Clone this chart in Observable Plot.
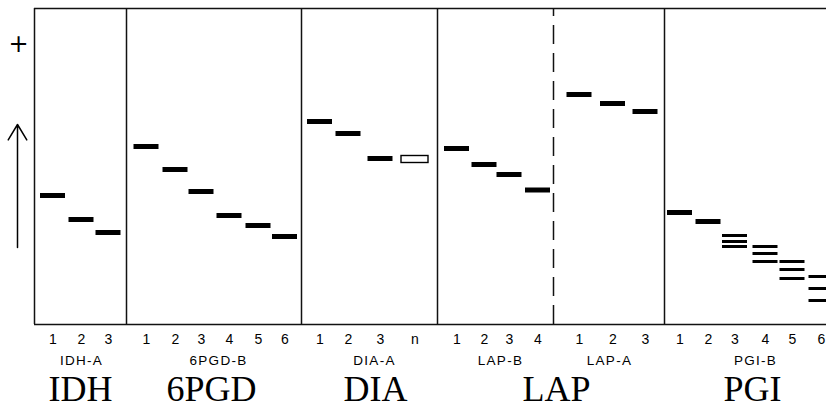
<!DOCTYPE html>
<html>
<head>
<meta charset="utf-8">
<script src="https://cdn.jsdelivr.net/npm/d3@7"></script>
<script src="https://cdn.jsdelivr.net/npm/@observablehq/plot@0.6"></script>
<style>
  html, body { margin: 0; padding: 0; background: #fff; }
  #chart svg { display: block; background: #fff; }
</style>
</head>
<body>
<div id="chart"></div>
<script>
// ---- Data (gel position units from the left edge of the gel; mobility units from origin) ----
const enzymes = ["IDH", "6PGD", "DIA", "LAP", "PGI"];
const enzymeCenters = [46, 177, 341, 522, 718];

const loci = ["IDH-A", "6PGD-B", "DIA-A", "LAP-B", "LAP-A", "PGI-B"];
const lociCenters = [47, 184, 340, 466, 575, 721];

const dividers = [92, 267, 403, 630];
const dashedDividers = [519];

const idhLanes = [18.5, 47, 74];
const idhLabels = ["1", "2", "3"];
const idhBands = [129, 105, 92];

const pgdLanes = [112, 141, 167, 195, 224, 250.5];
const pgdLabels = ["1", "2", "3", "4", "5", "6"];
const pgdBands = [178, 155, 133, 109, 99, 88];

const diaLanes = [285.5, 314, 346, 380.5];
const diaLabels = ["1", "2", "3", "n"];
const diaBands = [203, 191, 166, 165];
const diaHollow = [false, false, false, true];

const lapBLanes = [422.5, 450, 475, 503.5];
const lapBLabels = ["1", "2", "3", "4"];
const lapBBands = [176, 160, 150, 134.5];

const lapALanes = [545, 578.5, 611];
const lapALabels = ["1", "2", "3"];
const lapABands = [230, 221, 213];

const pgiLanes = [645.5, 674, 700.5, 731, 758, 787];
const pgiLabels = ["1", "2", "3", "4", "5", "6"];
const pgiBands = [[112], [103], [89, 83, 78], [78, 71, 63], [63, 55, 46], [48, 36, 24]];

const plusPosition = [-16, 280];
const arrowFrom = [-17, 77];
const arrowTo = [-17, 200];

// ---- Build tables ----
const lanes = [];
const bands = [];
const hollow = [];
function addLocus(pos, labels, mobs, hollowFlags) {
  pos.forEach((p, i) => {
    lanes.push({pos: p, label: labels[i]});
    const m = Array.isArray(mobs[i]) ? mobs[i] : [mobs[i]];
    const multi = m.length > 1;
    m.forEach(v => {
      const rec = {pos: p, mob: v, w: multi ? 3 : 5};
      if (hollowFlags && hollowFlags[i]) hollow.push(rec); else bands.push(rec);
    });
  });
}
addLocus(idhLanes, idhLabels, idhBands);
addLocus(pgdLanes, pgdLabels, pgdBands);
addLocus(diaLanes, diaLabels, diaBands, diaHollow);
addLocus(lapBLanes, lapBLabels, lapBBands);
addLocus(lapALanes, lapALabels, lapABands);
addLocus(pgiLanes, pgiLabels, pgiBands);

const enzymeRows = enzymes.map((e, i) => ({name: e, pos: enzymeCenters[i]}));
const locusRows = loci.map((l, i) => ({name: l, pos: lociCenters[i]}));

const halfBand = 12.5;

const chart = Plot.plot({
  width: 826,
  height: 410,
  marginLeft: 34,
  marginRight: 0,
  marginTop: 8,
  marginBottom: 86,
  x: {domain: [0, 792], axis: null},
  y: {domain: [0, 316], axis: null},
  style: {background: "#fff", overflow: "visible"},
  marks: [
    // gel frame
    Plot.ruleY([0, 316], {x1: 0, x2: 792, stroke: "#111", strokeWidth: 1.5}),
    Plot.ruleX([0], {y1: 0, y2: 316, stroke: "#111", strokeWidth: 1.5}),
    Plot.ruleX(dividers, {y1: 0, y2: 316, stroke: "#111", strokeWidth: 1.5}),
    Plot.ruleX(dashedDividers, {y1: 0, y2: 316, stroke: "#111", strokeWidth: 1.5, strokeDasharray: "19,9"}),
    // bands
    Plot.ruleY(bands, {y: "mob", x1: d => d.pos - halfBand, x2: d => d.pos + halfBand, stroke: "#000", strokeWidth: d => d.w}),
    Plot.rect(hollow, {x1: d => d.pos - 13.5, x2: d => d.pos + 13.5, y1: d => d.mob - 3.5, y2: d => d.mob + 3.5, fill: "#fff", stroke: "#000", strokeWidth: 1.4}),
    // lane numbers
    Plot.text(lanes, {x: "pos", text: "label", frameAnchor: "bottom", dy: 19, fontSize: 14, fontFamily: "Liberation Sans, Arial, sans-serif", fill: "#000"}),
    // locus labels
    Plot.text(locusRows, {x: "pos", text: "name", frameAnchor: "bottom", dy: 40, fontSize: 13.5, fontFamily: "Liberation Sans, Arial, sans-serif", fill: "#000"}),
    // enzyme labels
    Plot.text(enzymeRows, {x: "pos", text: "name", frameAnchor: "bottom", dy: 76, fontSize: 36, fontFamily: "Liberation Serif, Times New Roman, serif", fill: "#000"}),
    // anode sign and migration arrow
    Plot.text([plusPosition], {x: d => d[0], y: d => d[1], text: ["+"], fontSize: 24, fontFamily: "DejaVu Sans, sans-serif", fill: "#000"}),
    Plot.arrow([[arrowFrom, arrowTo]], {x1: d => d[0][0], y1: d => d[0][1], x2: d => d[1][0], y2: d => d[1][1], stroke: "#000", strokeWidth: 1.5, headLength: 18, headAngle: 62})
  ]
});
chart.setAttribute("font-family", "Liberation Sans, Arial, sans-serif");
// widen the spacing of the locus labels (second text mark)
const textGroups = chart.querySelectorAll('g[aria-label="text"]');
if (textGroups[1]) textGroups[1].setAttribute("letter-spacing", "1.3px");
document.getElementById("chart").append(chart);
</script>
</body>
</html>
